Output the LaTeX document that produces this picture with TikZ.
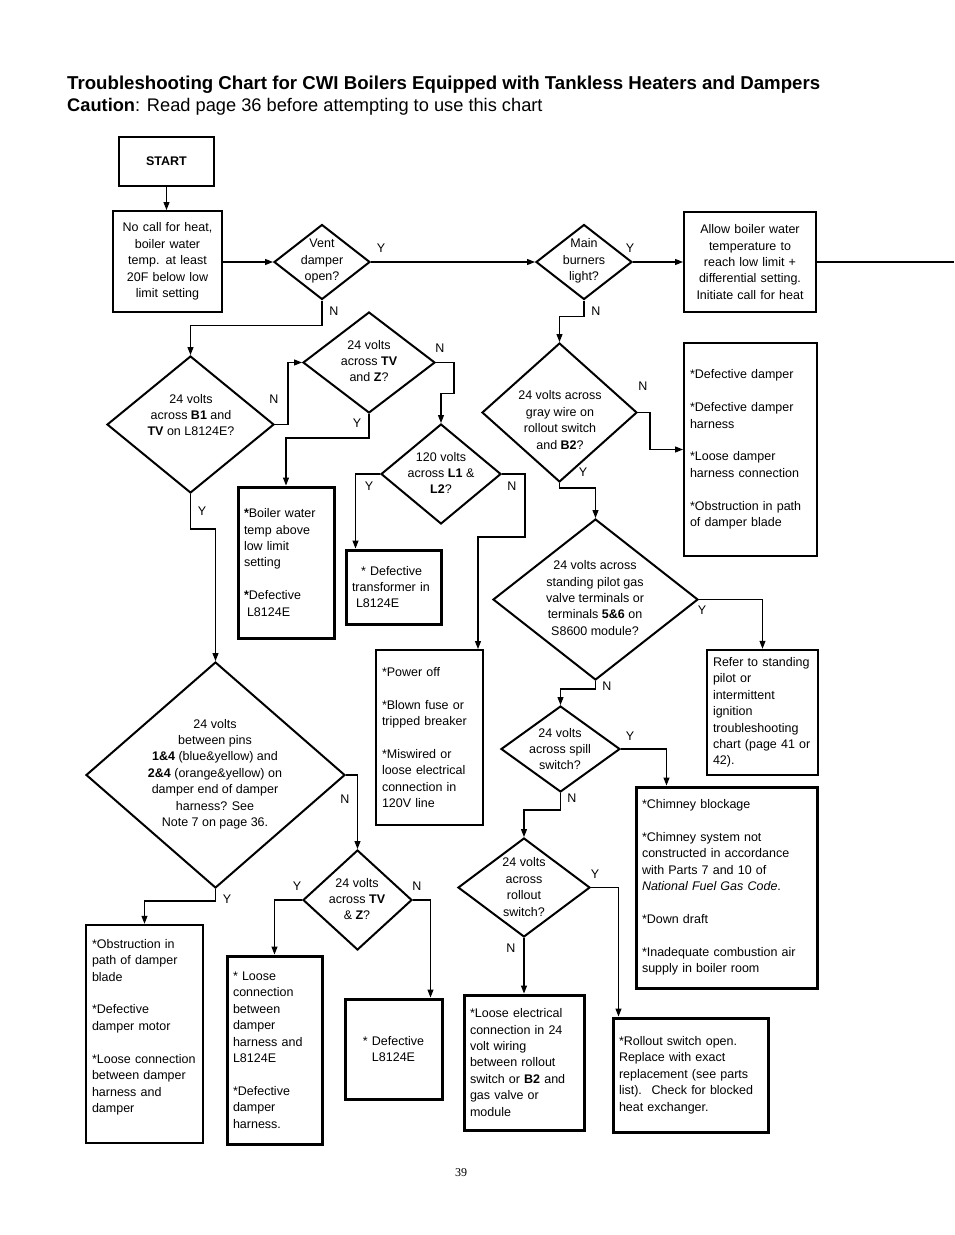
\documentclass[tikz,border=0pt]{standalone}
\usepackage{fontspec}
\setmainfont{Liberation Sans}
\newfontfamily\fcserif{Liberation Serif}
\usetikzlibrary{arrows.meta,shapes.geometric}
\newcommand\fcbody{\fontsize{12.5}{16.4}\selectfont}
\tikzset{
  every node/.style={font=\fcbody},
  fbox/.style={draw, line width=2pt, inner xsep=6pt, inner ysep=0pt, align=left},
  tbox/.style={fbox, line width=3pt},
  dia/.style={draw, diamond, line width=2pt, inner sep=0pt},
  dtext/.style={align=center, inner sep=0pt},
  lab/.style={inner sep=0pt},
  arr/.style={line width=1.1pt, -{Triangle[length=8pt,width=6pt]}},
  ln/.style={line width=1.1pt},
  ttl/.style={anchor=base west, inner sep=0pt, font=\fontsize{18.25}{22}\selectfont},
}
\begin{document}
\begin{tikzpicture}[x=1pt,y=-1pt]
\fill[white] (0,0) rectangle (954,1235);
\useasboundingbox (0,0) rectangle (954,1235);

% title
\node[ttl, font=\fontsize{18.65}{22}\selectfont\bfseries] (title) at (67,89) {Troubleshooting Chart for CWI Boilers Equipped with Tankless Heaters and Dampers};
\node[ttl] (caution) at (67,111) {\textbf{Caution}: Read page 36 before attempting to use this chart};

% boxes
\node[fbox, align=center, minimum width=95, minimum height=49, font=\fcbody\bfseries] (start) at (166.5,161.5) {START};
\node[fbox, align=center, text width=97, minimum width=109, minimum height=101] (nocall) at (167.5,261.5) {No call for heat,\\ boiler water\\temp. at least\\20F below low\\limit setting};
\node[fbox, align=center, text width=120, minimum width=132, minimum height=100] (allow) at (750,262) {Allow boiler water\\temperature to\\reach low limit +\\differential setting.\\Initiate call for heat};
\node[fbox, text width=121, minimum width=133, minimum height=213] (defdamp) at (750.5,449.5) {*Defective damper\\[16.5pt]*Defective damper\\harness\\[16.5pt]*Loose damper\\harness connection\\[16.5pt]*Obstruction in path\\of damper blade};
\node[tbox, text width=84, minimum width=96, minimum height=151] (boilerw) at (286,562.5) {\textbf{*}Boiler water\\temp above\\low limit\\setting\\[16.5pt]\textbf{*}Defective\\\hspace*{3pt}L8124E};
\node[tbox, text width=83, minimum width=95, minimum height=74] (transf) at (393.5,587) {\hspace*{9pt}* Defective\\transformer in\\\hspace*{4pt}L8124E};
\node[fbox, text width=95, minimum width=107, minimum height=175] (poweroff) at (429.5,737.5) {*Power off\\[16.5pt]*Blown fuse or\\tripped breaker\\[16.5pt]*Miswired or\\loose electrical\\connection in\\120V line};
\node[fbox, line width=2.5pt, text width=99, minimum width=111, minimum height=125] (refer) at (762.5,712.5) {Refer to standing\\pilot or\\intermittent\\ignition\\troubleshooting\\chart (page 41 or\\42).};
\node[tbox, text width=169, minimum width=181, minimum height=201] (chimney) at (726.5,887.5) {*Chimney blockage\\[16.5pt]*Chimney system not\\constructed in accordance\\with Parts 7 and 10 of\\\textit{National Fuel Gas Code}.\\[16.5pt]*Down draft\\[16.5pt]*Inadequate combustion air\\supply in boiler room};
\node[fbox, line width=2.5pt, text width=105, minimum width=117, minimum height=218] (obstr) at (144.5,1034) {*Obstruction in\\path of damper\\blade\\[16.5pt]*Defective\\damper motor\\[16.5pt]*Loose connection\\between damper\\harness and\\damper\\\mbox{}};
\node[tbox, text width=83, minimum width=95, minimum height=188] (looseconn) at (274.5,1050) {* Loose\\connection\\between\\damper\\harness and\\L8124E\\[16.5pt]*Defective\\damper\\harness.};
\node[tbox, align=center, text width=85, minimum width=97, minimum height=100] (defl) at (393.5,1049) {* Defective\\L8124E};
\node[tbox, text width=108, minimum width=120, minimum height=135] (looseel) at (524,1062.5) {*Loose electrical\\connection in 24\\volt wiring\\between rollout\\switch or \textbf{B2} and\\gas valve or\\module};
\node[tbox, text width=143, minimum width=155, minimum height=114] (rollbox) at (690.5,1075) {*Rollout switch open.\\Replace with exact\\replacement (see parts\\list).\hspace{3.5pt} Check for blocked\\heat exchanger.};

% diamonds
\node[dia, minimum width=96, minimum height=75] (vent) at (322,262) {};
\node[dtext] (ventT) at (322,261) {Vent\\damper\\open?};
\node[dia, minimum width=96, minimum height=75] (main) at (584,262) {};
\node[dtext] (mainT) at (584,261) {Main\\burners\\light?};
\node[dia, minimum width=167, minimum height=137] (b1) at (190.5,424.5) {};
\node[dtext] (b1T) at (191,415) {24 volts\\across \textbf{B1} and\\\textbf{TV} on L8124E?};
\node[dia, minimum width=132, minimum height=101] (tvz) at (369,362.5) {};
\node[dtext] (tvzT) at (369,361) {24 volts\\across \textbf{TV}\\and \textbf{Z}?};
\node[dia, minimum width=120, minimum height=100] (v120) at (441,474) {};
\node[dtext] (v120T) at (441,473) {120 volts\\across \textbf{L1} \&\\\textbf{L2}?};
\node[dia, minimum width=155, minimum height=139] (gray) at (559.5,412.5) {};
\node[dtext] (grayT) at (560,420) {24 volts across\\gray wire on\\rollout switch\\and \textbf{B2}?};
\node[dia, minimum width=205, minimum height=161] (pilot) at (595.5,599.5) {};
\node[dtext] (pilotT) at (595,598) {24 volts across\\standing pilot gas\\valve terminals or\\terminals \textbf{5\&6} on\\S8600 module?};
\node[dia, minimum width=259, minimum height=226] (big) at (215.5,775) {};
\node[dtext] (bigT) at (215,774) {24 volts\\between pins\\\textbf{1\&4} (blue\&yellow) and\\\textbf{2\&4} (orange\&yellow) on\\damper end of damper\\harness? See\\Note 7 on page 36.};
\node[dia, minimum width=119, minimum height=86] (spill) at (560.5,749) {};
\node[dtext] (spillT) at (560,749) {24 volts\\across spill\\switch?};
\node[dia, minimum width=109, minimum height=100] (tvz2) at (357.5,900) {};
\node[dtext] (tvz2T) at (357,899) {24 volts\\across \textbf{TV}\\\& \textbf{Z}?};
\node[dia, minimum width=132, minimum height=99] (roll) at (524,887.5) {};
\node[dtext] (rollT) at (524,887) {24 volts\\across\\rollout\\switch?};

% labels
\node[lab] (l1) at (381,248) {Y};
\node[lab] (l2) at (334,311) {N};
\node[lab] (l3) at (274,399) {N};
\node[lab] (l4) at (440,348) {N};
\node[lab] (l5) at (357,423) {Y};
\node[lab] (l6) at (369,486) {Y};
\node[lab] (l7) at (512,486) {N};
\node[lab] (l8) at (202,511) {Y};
\node[lab] (l9) at (345,799) {N};
\node[lab] (l10) at (227,899) {Y};
\node[lab] (l11) at (297,886) {Y};
\node[lab] (l12) at (417,886) {N};
\node[lab] (l13) at (630,248) {Y};
\node[lab] (l14) at (596,311) {N};
\node[lab] (l15) at (643,386) {N};
\node[lab] (l16) at (583,472) {Y};
\node[lab] (l17) at (702,610) {Y};
\node[lab] (l18) at (607,686) {N};
\node[lab] (l19) at (630,736) {Y};
\node[lab] (l20) at (572,798) {N};
\node[lab] (l21) at (595,874) {Y};
\node[lab] (l22) at (511,948) {N};

\node[font=\fcserif\fontsize{12}{14}\selectfont, inner sep=0pt] (page) at (461,1173) {39};
\coordinate (edge) at (954,262);

% connectors
\draw[arr] (start.south) -- (start.south |- nocall.north);
\draw[arr] (vent.west -| nocall.east) -- (vent.west);
\draw[arr] (vent.east) -- (main.west);
\draw[arr] (main.east) -- (allow.west);
\draw[ln] (allow.east) -- (edge);
\draw[arr] (vent.south) -- ++(0,25) -| (b1.north);
\draw[arr] (b1.east) -- ++(13,0) |- (tvz.west);
\draw[arr] (tvz.east) -- ++(18,0) -- ++(0,31) -| (v120.north);
\draw[arr] (tvz.south) -- ++(0,24) -| (boilerw.north);
\draw[arr] (v120.west) -| ([xshift=11pt]transf.north west);
\draw[arr] (v120.east) -- ++(23,0) -- ++(0,63) -| ([xshift=-6pt]poweroff.north east);
\draw[arr] (b1.south) -- ++(0,35) -| (big.north);
\draw[arr] (big.east) -| (tvz2.north);
\draw[arr] (big.south) -- ++(0,12) -| (obstr.north);
\draw[arr] (tvz2.west) -| (looseconn.north);
\draw[arr] (tvz2.east) -| ([xshift=-13pt]defl.north east);
\draw[arr] (main.south) -- ++(0,16) -| (gray.north);
\draw[arr] (gray.east) -- ++(12,0) |- (defdamp.west);
\draw[arr] (gray.south) -- ++(0,5) -| (pilot.north);
\draw[arr] (pilot.east) -| (refer.north);
\draw[arr] (pilot.south) -- ++(0,8) -| (spill.north);
\draw[arr] (spill.east) -| ([xshift=32pt]chimney.north west);
\draw[arr] (spill.south) -- ++(0,17) -| (roll.north);
\draw[arr] (roll.south) -- (looseel.north);
\draw[arr] (roll.east) -| ([xshift=7pt]rollbox.north west);
\end{tikzpicture}
\end{document}
